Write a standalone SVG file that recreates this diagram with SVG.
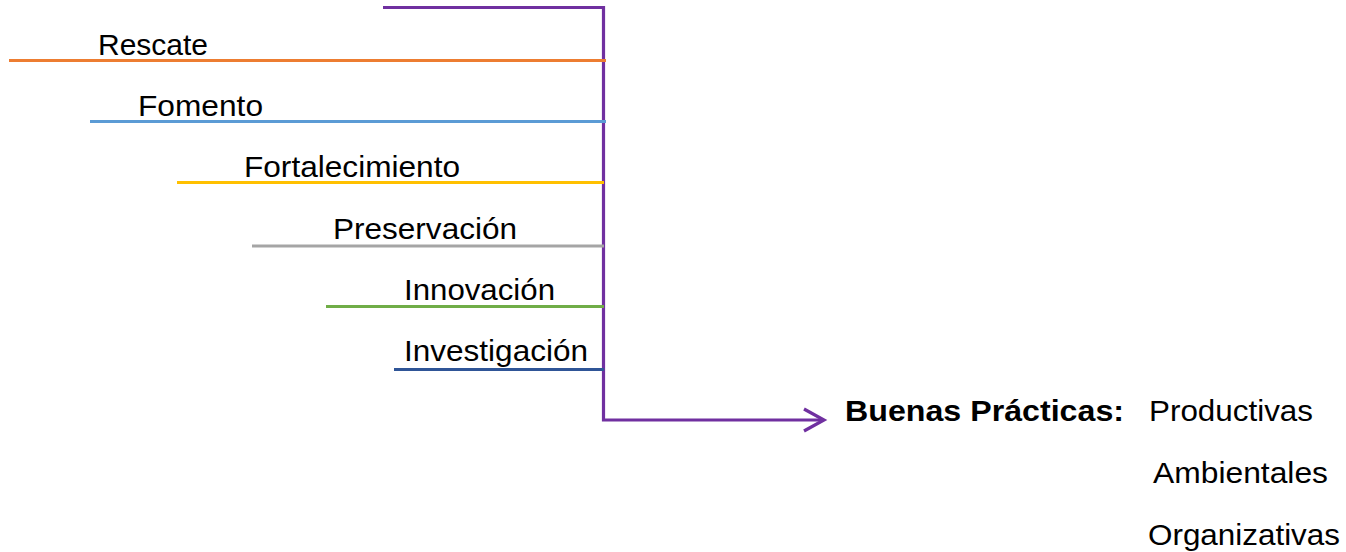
<svg xmlns="http://www.w3.org/2000/svg" width="1346" height="552" viewBox="0 0 1346 552">
<style>
.t{font-family:"Liberation Sans",Arial,sans-serif;font-size:30px;fill:#000}
.b{font-weight:bold}
.ln{stroke-width:3.2;fill:none}
.main{stroke:#7030A0;stroke-width:3.2;fill:none}
</style>
<rect width="1346" height="552" fill="#fff"/>
<g id="connectors">
<path class="main" d="M383,7.5 H603.5 V420 H823"/>
<polyline class="main" points="804,409 824,420 804,431" stroke-linejoin="miter"/>
</g>
<g id="rescate"><line class="ln" stroke="#ED7D31" x1="9" y1="60.5" x2="606" y2="60.5"/><text class="t" x="98" y="55" textLength="110" lengthAdjust="spacingAndGlyphs">Rescate</text></g>
<g id="fomento"><line class="ln" stroke="#5B9BD5" x1="90" y1="121.5" x2="606" y2="121.5"/><text class="t" x="138" y="116" textLength="125" lengthAdjust="spacingAndGlyphs">Fomento</text></g>
<g id="fortalecimiento"><line class="ln" stroke="#FFC000" x1="177" y1="182.5" x2="604" y2="182.5"/><text class="t" x="244" y="177" textLength="216" lengthAdjust="spacingAndGlyphs">Fortalecimiento</text></g>
<g id="preservacion"><line class="ln" stroke="#A5A5A5" x1="252" y1="246" x2="604" y2="246"/><text class="t" x="333" y="239" textLength="184" lengthAdjust="spacingAndGlyphs">Preservación</text></g>
<g id="innovacion"><line class="ln" stroke="#70AD47" x1="326" y1="306.5" x2="604" y2="306.5"/><text class="t" x="404" y="300" textLength="151" lengthAdjust="spacingAndGlyphs">Innovación</text></g>
<g id="investigacion"><line class="ln" stroke="#2F5597" x1="394" y1="369.5" x2="604" y2="369.5"/><text class="t" x="404" y="361" textLength="184" lengthAdjust="spacingAndGlyphs">Investigación</text></g>
<g id="buenas-practicas">
<text class="t b" x="845" y="421" textLength="279" lengthAdjust="spacingAndGlyphs">Buenas Prácticas:</text>
<text class="t" x="1149" y="421" textLength="164" lengthAdjust="spacingAndGlyphs">Productivas</text>
<text class="t" x="1153" y="483" textLength="175" lengthAdjust="spacingAndGlyphs">Ambientales</text>
<text class="t" x="1148" y="545" textLength="192" lengthAdjust="spacingAndGlyphs">Organizativas</text>
</g>
</svg>
